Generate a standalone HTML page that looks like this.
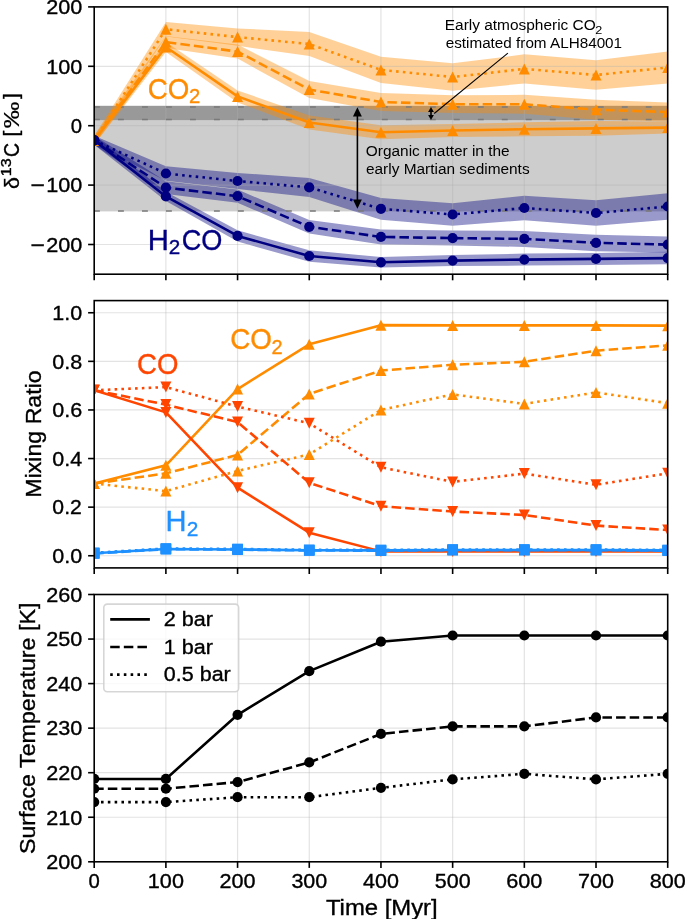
<!DOCTYPE html>
<html><head><meta charset="utf-8"><style>
html,body{margin:0;padding:0;background:#fff;}
svg{display:block;will-change:transform;}
text{font-family:"Liberation Sans", sans-serif;}
</style></head><body>
<svg width="685" height="919" viewBox="0 0 685 919">
<rect width="685" height="919" fill="#fff"/>
<clipPath id="c1"><rect x="94.2" y="6.9" width="573.5" height="267.3"/></clipPath>
<clipPath id="c2"><rect x="94.2" y="300.6" width="573.5" height="267.3"/></clipPath>
<clipPath id="c3"><rect x="94.2" y="594.5" width="573.5" height="267.3"/></clipPath>
<g clip-path="url(#c1)">
<rect x="94.2" y="120.3" width="573.5" height="91.1" fill="#cdcdcd"/>
<rect x="94.2" y="105.8" width="573.5" height="14.5" fill="#999999"/>
<polygon points="94.2,135.8 165.89,21.9 237.57,28.4 309.26,31.9 380.95,56.75 452.64,63.3 524.33,54.35 596.01,60.15 667.7,51.5 667.7,83.5 596.01,89.85 524.33,83.45 452.64,90.7 380.95,83.05 309.26,56.1 237.57,45.8 165.89,36.5 94.2,144.8" fill="#ff8c00" fill-opacity="0.4"/>
<polygon points="94.2,135.8 165.89,36.1 237.57,44.6 309.26,81 380.95,92.9 452.64,95.3 524.33,94.85 596.01,99.7 667.7,102.5 667.7,121.5 596.01,119.7 524.33,113.75 452.64,113.1 380.95,111.1 309.26,98 237.57,58.6 165.89,48.1 94.2,144.8" fill="#ff8c00" fill-opacity="0.4"/>
<polygon points="94.2,135.8 165.89,42 237.57,90.4 309.26,115.5 380.95,125.2 452.64,124 524.33,122.3 596.01,121 667.7,121.6 667.7,133.6 596.01,135.8 524.33,136.3 452.64,137 380.95,139.2 309.26,129.5 237.57,102.4 165.89,52 94.2,144.8" fill="#ff8c00" fill-opacity="0.4"/>
<polygon points="94.2,135.8 165.89,166.3 237.57,172.9 309.26,177.9 380.95,197.9 452.64,203.15 524.33,195.75 596.01,200.25 667.7,193.25 667.7,219.75 596.01,225.75 524.33,220.25 452.64,225.85 380.95,219.7 309.26,196.9 237.57,189.1 165.89,180.7 94.2,144.8" fill="#000080" fill-opacity="0.4"/>
<polygon points="94.2,135.8 165.89,181.3 237.57,189.6 309.26,220 380.95,229.4 452.64,230.6 524.33,230.9 596.01,234.65 667.7,236.6 667.7,252.6 596.01,251.15 524.33,246.9 452.64,245.6 380.95,244.4 309.26,233.6 237.57,202.8 165.89,193.9 94.2,144.8" fill="#000080" fill-opacity="0.4"/>
<polygon points="94.2,135.8 165.89,191.8 237.57,230.3 309.26,250.3 380.95,257.1 452.64,255.1 524.33,253.6 596.01,252.9 667.7,251.85 667.7,264.35 596.01,264.9 524.33,265.6 452.64,266.1 380.95,267.5 309.26,261.7 237.57,241.5 165.89,201 94.2,144.8" fill="#000080" fill-opacity="0.4"/>
<g stroke="#b0b0b0" stroke-opacity="0.35" stroke-width="1.2">
<line x1="94.2" y1="6.9" x2="94.2" y2="274.2"/>
<line x1="165.89" y1="6.9" x2="165.89" y2="274.2"/>
<line x1="237.57" y1="6.9" x2="237.57" y2="274.2"/>
<line x1="309.26" y1="6.9" x2="309.26" y2="274.2"/>
<line x1="380.95" y1="6.9" x2="380.95" y2="274.2"/>
<line x1="452.64" y1="6.9" x2="452.64" y2="274.2"/>
<line x1="524.33" y1="6.9" x2="524.33" y2="274.2"/>
<line x1="596.01" y1="6.9" x2="596.01" y2="274.2"/>
<line x1="667.7" y1="6.9" x2="667.7" y2="274.2"/>
<line x1="94.2" y1="244.5" x2="667.7" y2="244.5"/>
<line x1="94.2" y1="185.1" x2="667.7" y2="185.1"/>
<line x1="94.2" y1="125.7" x2="667.7" y2="125.7"/>
<line x1="94.2" y1="66.3" x2="667.7" y2="66.3"/>
<line x1="94.2" y1="6.9" x2="667.7" y2="6.9"/>
</g>
<line x1="94.0" y1="106.9" x2="667.7" y2="106.9" stroke="#7a7a7a" stroke-width="1.5" stroke-dasharray="5.9,18.09"/>
<line x1="94.0" y1="119.45" x2="667.7" y2="119.45" stroke="#7a7a7a" stroke-width="1.5" stroke-dasharray="5.9,18.09"/>
<line x1="94.0" y1="210.9" x2="667.7" y2="210.9" stroke="#7a7a7a" stroke-width="1.5" stroke-dasharray="5.9,18.09"/>
<polyline points="94.2,140.3 165.89,47 237.57,96.4 309.26,122.5 380.95,132.2 452.64,130.5 524.33,129.3 596.01,128.4 667.7,127.6" fill="none" stroke="#ff8c00" stroke-width="2.57" stroke-linecap="square" stroke-linejoin="round"/>
<path d="M94.2,134.8L99.7,145.8L88.7,145.8Z" fill="#ff8c00"/>
<path d="M165.89,41.5L171.39,52.5L160.39,52.5Z" fill="#ff8c00"/>
<path d="M237.57,90.9L243.07,101.9L232.07,101.9Z" fill="#ff8c00"/>
<path d="M309.26,117L314.76,128L303.76,128Z" fill="#ff8c00"/>
<path d="M380.95,126.7L386.45,137.7L375.45,137.7Z" fill="#ff8c00"/>
<path d="M452.64,125L458.14,136L447.14,136Z" fill="#ff8c00"/>
<path d="M524.33,123.8L529.83,134.8L518.83,134.8Z" fill="#ff8c00"/>
<path d="M596.01,122.9L601.51,133.9L590.51,133.9Z" fill="#ff8c00"/>
<path d="M667.7,122.1L673.2,133.1L662.2,133.1Z" fill="#ff8c00"/>
<polyline points="94.2,140.3 165.89,42.1 237.57,51.6 309.26,89.5 380.95,102 452.64,104.2 524.33,104.3 596.01,109.7 667.7,112" fill="none" stroke="#ff8c00" stroke-width="2.57" stroke-dasharray="9.509,4.112" stroke-linecap="butt" stroke-linejoin="round"/>
<path d="M94.2,134.8L99.7,145.8L88.7,145.8Z" fill="#ff8c00"/>
<path d="M165.89,36.6L171.39,47.6L160.39,47.6Z" fill="#ff8c00"/>
<path d="M237.57,46.1L243.07,57.1L232.07,57.1Z" fill="#ff8c00"/>
<path d="M309.26,84L314.76,95L303.76,95Z" fill="#ff8c00"/>
<path d="M380.95,96.5L386.45,107.5L375.45,107.5Z" fill="#ff8c00"/>
<path d="M452.64,98.7L458.14,109.7L447.14,109.7Z" fill="#ff8c00"/>
<path d="M524.33,98.8L529.83,109.8L518.83,109.8Z" fill="#ff8c00"/>
<path d="M596.01,104.2L601.51,115.2L590.51,115.2Z" fill="#ff8c00"/>
<path d="M667.7,106.5L673.2,117.5L662.2,117.5Z" fill="#ff8c00"/>
<polyline points="94.2,140.3 165.89,29.2 237.57,37.1 309.26,44 380.95,69.9 452.64,77 524.33,68.9 596.01,75 667.7,67.5" fill="none" stroke="#ff8c00" stroke-width="2.57" stroke-dasharray="2.57,4.2405" stroke-linecap="butt" stroke-linejoin="round"/>
<path d="M94.2,134.8L99.7,145.8L88.7,145.8Z" fill="#ff8c00"/>
<path d="M165.89,23.7L171.39,34.7L160.39,34.7Z" fill="#ff8c00"/>
<path d="M237.57,31.6L243.07,42.6L232.07,42.6Z" fill="#ff8c00"/>
<path d="M309.26,38.5L314.76,49.5L303.76,49.5Z" fill="#ff8c00"/>
<path d="M380.95,64.4L386.45,75.4L375.45,75.4Z" fill="#ff8c00"/>
<path d="M452.64,71.5L458.14,82.5L447.14,82.5Z" fill="#ff8c00"/>
<path d="M524.33,63.4L529.83,74.4L518.83,74.4Z" fill="#ff8c00"/>
<path d="M596.01,69.5L601.51,80.5L590.51,80.5Z" fill="#ff8c00"/>
<path d="M667.7,62L673.2,73L662.2,73Z" fill="#ff8c00"/>
<polyline points="94.2,140.3 165.89,196.4 237.57,235.9 309.26,256 380.95,262.3 452.64,260.6 524.33,259.6 596.01,258.9 667.7,258.1" fill="none" stroke="#000080" stroke-width="2.57" stroke-linecap="square" stroke-linejoin="round"/>
<circle cx="94.2" cy="140.3" r="5.1" fill="#000080"/>
<circle cx="165.89" cy="196.4" r="5.1" fill="#000080"/>
<circle cx="237.57" cy="235.9" r="5.1" fill="#000080"/>
<circle cx="309.26" cy="256" r="5.1" fill="#000080"/>
<circle cx="380.95" cy="262.3" r="5.1" fill="#000080"/>
<circle cx="452.64" cy="260.6" r="5.1" fill="#000080"/>
<circle cx="524.33" cy="259.6" r="5.1" fill="#000080"/>
<circle cx="596.01" cy="258.9" r="5.1" fill="#000080"/>
<circle cx="667.7" cy="258.1" r="5.1" fill="#000080"/>
<polyline points="94.2,140.3 165.89,187.6 237.57,196.2 309.26,226.8 380.95,236.9 452.64,238.1 524.33,238.9 596.01,242.9 667.7,244.6" fill="none" stroke="#000080" stroke-width="2.57" stroke-dasharray="9.509,4.112" stroke-linecap="butt" stroke-linejoin="round"/>
<circle cx="94.2" cy="140.3" r="5.1" fill="#000080"/>
<circle cx="165.89" cy="187.6" r="5.1" fill="#000080"/>
<circle cx="237.57" cy="196.2" r="5.1" fill="#000080"/>
<circle cx="309.26" cy="226.8" r="5.1" fill="#000080"/>
<circle cx="380.95" cy="236.9" r="5.1" fill="#000080"/>
<circle cx="452.64" cy="238.1" r="5.1" fill="#000080"/>
<circle cx="524.33" cy="238.9" r="5.1" fill="#000080"/>
<circle cx="596.01" cy="242.9" r="5.1" fill="#000080"/>
<circle cx="667.7" cy="244.6" r="5.1" fill="#000080"/>
<polyline points="94.2,140.3 165.89,173.5 237.57,181 309.26,187.4 380.95,208.8 452.64,214.5 524.33,208 596.01,213 667.7,206.5" fill="none" stroke="#000080" stroke-width="2.57" stroke-dasharray="2.57,4.2405" stroke-linecap="butt" stroke-linejoin="round"/>
<circle cx="94.2" cy="140.3" r="5.1" fill="#000080"/>
<circle cx="165.89" cy="173.5" r="5.1" fill="#000080"/>
<circle cx="237.57" cy="181" r="5.1" fill="#000080"/>
<circle cx="309.26" cy="187.4" r="5.1" fill="#000080"/>
<circle cx="380.95" cy="208.8" r="5.1" fill="#000080"/>
<circle cx="452.64" cy="214.5" r="5.1" fill="#000080"/>
<circle cx="524.33" cy="208" r="5.1" fill="#000080"/>
<circle cx="596.01" cy="213" r="5.1" fill="#000080"/>
<circle cx="667.7" cy="206.5" r="5.1" fill="#000080"/>
</g>
<rect x="94.2" y="6.9" width="573.5" height="267.3" fill="none" stroke="#000" stroke-width="1.6"/>
<g stroke="#000" stroke-width="1.6">
<line x1="94.2" y1="274.2" x2="94.2" y2="280.3"/>
<line x1="165.89" y1="274.2" x2="165.89" y2="280.3"/>
<line x1="237.57" y1="274.2" x2="237.57" y2="280.3"/>
<line x1="309.26" y1="274.2" x2="309.26" y2="280.3"/>
<line x1="380.95" y1="274.2" x2="380.95" y2="280.3"/>
<line x1="452.64" y1="274.2" x2="452.64" y2="280.3"/>
<line x1="524.33" y1="274.2" x2="524.33" y2="280.3"/>
<line x1="596.01" y1="274.2" x2="596.01" y2="280.3"/>
<line x1="667.7" y1="274.2" x2="667.7" y2="280.3"/>
<line x1="88.1" y1="244.5" x2="94.2" y2="244.5"/>
<line x1="88.1" y1="185.1" x2="94.2" y2="185.1"/>
<line x1="88.1" y1="125.7" x2="94.2" y2="125.7"/>
<line x1="88.1" y1="66.3" x2="94.2" y2="66.3"/>
<line x1="88.1" y1="6.9" x2="94.2" y2="6.9"/>
</g>
<text x="30.46" y="251.8" font-size="20.4" fill="#000" stroke="#000" stroke-width="0.35" textLength="14.38" lengthAdjust="spacingAndGlyphs">−</text>
<text x="46.21" y="251.8" font-size="20.4" fill="#000" stroke="#000" stroke-width="0.35" textLength="36.08" lengthAdjust="spacingAndGlyphs">200</text>
<text x="30.46" y="192.4" font-size="20.4" fill="#000" stroke="#000" stroke-width="0.35" textLength="14.38" lengthAdjust="spacingAndGlyphs">−</text>
<text x="46.23" y="192.4" font-size="20.4" fill="#000" stroke="#000" stroke-width="0.35" textLength="36.05" lengthAdjust="spacingAndGlyphs">100</text>
<text x="70.84" y="133" font-size="20.4" fill="#000" stroke="#000" stroke-width="0.35" textLength="11.29" lengthAdjust="spacingAndGlyphs">0</text>
<text x="46.23" y="73.6" font-size="20.4" fill="#000" stroke="#000" stroke-width="0.35" textLength="36.05" lengthAdjust="spacingAndGlyphs">100</text>
<text x="46.21" y="14.2" font-size="20.4" fill="#000" stroke="#000" stroke-width="0.35" textLength="36.08" lengthAdjust="spacingAndGlyphs">200</text>
<g clip-path="url(#c2)">
<g stroke="#b0b0b0" stroke-opacity="0.35" stroke-width="1.2">
<line x1="94.2" y1="300.6" x2="94.2" y2="567.9"/>
<line x1="165.89" y1="300.6" x2="165.89" y2="567.9"/>
<line x1="237.57" y1="300.6" x2="237.57" y2="567.9"/>
<line x1="309.26" y1="300.6" x2="309.26" y2="567.9"/>
<line x1="380.95" y1="300.6" x2="380.95" y2="567.9"/>
<line x1="452.64" y1="300.6" x2="452.64" y2="567.9"/>
<line x1="524.33" y1="300.6" x2="524.33" y2="567.9"/>
<line x1="596.01" y1="300.6" x2="596.01" y2="567.9"/>
<line x1="667.7" y1="300.6" x2="667.7" y2="567.9"/>
<line x1="94.2" y1="555.75" x2="667.7" y2="555.75"/>
<line x1="94.2" y1="507.15" x2="667.7" y2="507.15"/>
<line x1="94.2" y1="458.55" x2="667.7" y2="458.55"/>
<line x1="94.2" y1="409.95" x2="667.7" y2="409.95"/>
<line x1="94.2" y1="361.35" x2="667.7" y2="361.35"/>
<line x1="94.2" y1="312.75" x2="667.7" y2="312.75"/>
</g>
<polyline points="94.2,483.58 165.89,465.35 237.57,389.05 309.26,344.34 380.95,325.14 452.64,325.39 524.33,325.39 596.01,325.39 667.7,325.63" fill="none" stroke="#ff8c00" stroke-width="2.57" stroke-linecap="square" stroke-linejoin="round"/>
<path d="M94.2,478.08L99.7,489.08L88.7,489.08Z" fill="#ff8c00"/>
<path d="M165.89,459.85L171.39,470.85L160.39,470.85Z" fill="#ff8c00"/>
<path d="M237.57,383.55L243.07,394.55L232.07,394.55Z" fill="#ff8c00"/>
<path d="M309.26,338.84L314.76,349.84L303.76,349.84Z" fill="#ff8c00"/>
<path d="M380.95,319.64L386.45,330.64L375.45,330.64Z" fill="#ff8c00"/>
<path d="M452.64,319.89L458.14,330.89L447.14,330.89Z" fill="#ff8c00"/>
<path d="M524.33,319.89L529.83,330.89L518.83,330.89Z" fill="#ff8c00"/>
<path d="M596.01,319.89L601.51,330.89L590.51,330.89Z" fill="#ff8c00"/>
<path d="M667.7,320.13L673.2,331.13L662.2,331.13Z" fill="#ff8c00"/>
<polyline points="94.2,483.58 165.89,473.37 237.57,454.91 309.26,393.91 380.95,370.58 452.64,364.75 524.33,361.84 596.01,350.66 667.7,345.31" fill="none" stroke="#ff8c00" stroke-width="2.57" stroke-dasharray="9.509,4.112" stroke-linecap="butt" stroke-linejoin="round"/>
<path d="M94.2,478.08L99.7,489.08L88.7,489.08Z" fill="#ff8c00"/>
<path d="M165.89,467.87L171.39,478.87L160.39,478.87Z" fill="#ff8c00"/>
<path d="M237.57,449.41L243.07,460.41L232.07,460.41Z" fill="#ff8c00"/>
<path d="M309.26,388.41L314.76,399.41L303.76,399.41Z" fill="#ff8c00"/>
<path d="M380.95,365.08L386.45,376.08L375.45,376.08Z" fill="#ff8c00"/>
<path d="M452.64,359.25L458.14,370.25L447.14,370.25Z" fill="#ff8c00"/>
<path d="M524.33,356.34L529.83,367.34L518.83,367.34Z" fill="#ff8c00"/>
<path d="M596.01,345.16L601.51,356.16L590.51,356.16Z" fill="#ff8c00"/>
<path d="M667.7,339.81L673.2,350.81L662.2,350.81Z" fill="#ff8c00"/>
<polyline points="94.2,483.58 165.89,491.11 237.57,470.94 309.26,454.42 380.95,409.95 452.64,394.4 524.33,403.88 596.01,392.45 667.7,403.15" fill="none" stroke="#ff8c00" stroke-width="2.57" stroke-dasharray="2.57,4.2405" stroke-linecap="butt" stroke-linejoin="round"/>
<path d="M94.2,478.08L99.7,489.08L88.7,489.08Z" fill="#ff8c00"/>
<path d="M165.89,485.61L171.39,496.61L160.39,496.61Z" fill="#ff8c00"/>
<path d="M237.57,465.44L243.07,476.44L232.07,476.44Z" fill="#ff8c00"/>
<path d="M309.26,448.92L314.76,459.92L303.76,459.92Z" fill="#ff8c00"/>
<path d="M380.95,404.45L386.45,415.45L375.45,415.45Z" fill="#ff8c00"/>
<path d="M452.64,388.9L458.14,399.9L447.14,399.9Z" fill="#ff8c00"/>
<path d="M524.33,398.38L529.83,409.38L518.83,409.38Z" fill="#ff8c00"/>
<path d="M596.01,386.95L601.51,397.95L590.51,397.95Z" fill="#ff8c00"/>
<path d="M667.7,397.65L673.2,408.65L662.2,408.65Z" fill="#ff8c00"/>
<polyline points="94.2,390.27 165.89,412.38 237.57,487.71 309.26,532.66 380.95,551.38 452.64,551.38 524.33,551.38 596.01,551.38 667.7,551.38" fill="none" stroke="#ff4500" stroke-width="2.57" stroke-linecap="square" stroke-linejoin="round"/>
<path d="M94.2,395.77L99.7,384.77L88.7,384.77Z" fill="#ff4500"/>
<path d="M165.89,417.88L171.39,406.88L160.39,406.88Z" fill="#ff4500"/>
<path d="M237.57,493.21L243.07,482.21L232.07,482.21Z" fill="#ff4500"/>
<path d="M309.26,538.16L314.76,527.16L303.76,527.16Z" fill="#ff4500"/>
<path d="M380.95,556.88L386.45,545.88L375.45,545.88Z" fill="#ff4500"/>
<path d="M452.64,556.88L458.14,545.88L447.14,545.88Z" fill="#ff4500"/>
<path d="M524.33,556.88L529.83,545.88L518.83,545.88Z" fill="#ff4500"/>
<path d="M596.01,556.88L601.51,545.88L590.51,545.88Z" fill="#ff4500"/>
<path d="M667.7,556.88L673.2,545.88L662.2,545.88Z" fill="#ff4500"/>
<polyline points="94.2,390.27 165.89,404.6 237.57,422.1 309.26,482.85 380.95,506.18 452.64,511.52 524.33,514.93 596.01,525.62 667.7,529.99" fill="none" stroke="#ff4500" stroke-width="2.57" stroke-dasharray="9.509,4.112" stroke-linecap="butt" stroke-linejoin="round"/>
<path d="M94.2,395.77L99.7,384.77L88.7,384.77Z" fill="#ff4500"/>
<path d="M165.89,410.1L171.39,399.1L160.39,399.1Z" fill="#ff4500"/>
<path d="M237.57,427.6L243.07,416.6L232.07,416.6Z" fill="#ff4500"/>
<path d="M309.26,488.35L314.76,477.35L303.76,477.35Z" fill="#ff4500"/>
<path d="M380.95,511.68L386.45,500.68L375.45,500.68Z" fill="#ff4500"/>
<path d="M452.64,517.02L458.14,506.02L447.14,506.02Z" fill="#ff4500"/>
<path d="M524.33,520.43L529.83,509.43L518.83,509.43Z" fill="#ff4500"/>
<path d="M596.01,531.12L601.51,520.12L590.51,520.12Z" fill="#ff4500"/>
<path d="M667.7,535.49L673.2,524.49L662.2,524.49Z" fill="#ff4500"/>
<polyline points="94.2,390.27 165.89,387.11 237.57,406.55 309.26,423.31 380.95,467.3 452.64,481.88 524.33,473.62 596.01,484.79 667.7,473.37" fill="none" stroke="#ff4500" stroke-width="2.57" stroke-dasharray="2.57,4.2405" stroke-linecap="butt" stroke-linejoin="round"/>
<path d="M94.2,395.77L99.7,384.77L88.7,384.77Z" fill="#ff4500"/>
<path d="M165.89,392.61L171.39,381.61L160.39,381.61Z" fill="#ff4500"/>
<path d="M237.57,412.05L243.07,401.05L232.07,401.05Z" fill="#ff4500"/>
<path d="M309.26,428.81L314.76,417.81L303.76,417.81Z" fill="#ff4500"/>
<path d="M380.95,472.8L386.45,461.8L375.45,461.8Z" fill="#ff4500"/>
<path d="M452.64,487.38L458.14,476.38L447.14,476.38Z" fill="#ff4500"/>
<path d="M524.33,479.12L529.83,468.12L518.83,468.12Z" fill="#ff4500"/>
<path d="M596.01,490.29L601.51,479.29L590.51,479.29Z" fill="#ff4500"/>
<path d="M667.7,478.87L673.2,467.87L662.2,467.87Z" fill="#ff4500"/>
<polyline points="94.2,553.25 165.89,548.95 237.57,549.43 309.26,550.26 380.95,550.4 452.64,549.92 524.33,549.92 596.01,549.92 667.7,550.4" fill="none" stroke="#1e90ff" stroke-width="2.57" stroke-linecap="square" stroke-linejoin="round"/>
<rect x="88.9" y="547.95" width="10.6" height="10.6" fill="#1e90ff"/>
<rect x="160.59" y="543.65" width="10.6" height="10.6" fill="#1e90ff"/>
<rect x="232.27" y="544.13" width="10.6" height="10.6" fill="#1e90ff"/>
<rect x="303.96" y="544.96" width="10.6" height="10.6" fill="#1e90ff"/>
<rect x="375.65" y="545.1" width="10.6" height="10.6" fill="#1e90ff"/>
<rect x="447.34" y="544.62" width="10.6" height="10.6" fill="#1e90ff"/>
<rect x="519.03" y="544.62" width="10.6" height="10.6" fill="#1e90ff"/>
<rect x="590.71" y="544.62" width="10.6" height="10.6" fill="#1e90ff"/>
<rect x="662.4" y="545.1" width="10.6" height="10.6" fill="#1e90ff"/>
<polyline points="94.2,553.49 165.89,549.19 237.57,549.67 309.26,550.5 380.95,550.65 452.64,550.16 524.33,550.16 596.01,550.16 667.7,550.65" fill="none" stroke="#1e90ff" stroke-width="2.57" stroke-dasharray="9.509,4.112" stroke-linecap="butt" stroke-linejoin="round"/>
<rect x="88.9" y="548.19" width="10.6" height="10.6" fill="#1e90ff"/>
<rect x="160.59" y="543.89" width="10.6" height="10.6" fill="#1e90ff"/>
<rect x="232.27" y="544.38" width="10.6" height="10.6" fill="#1e90ff"/>
<rect x="303.96" y="545.2" width="10.6" height="10.6" fill="#1e90ff"/>
<rect x="375.65" y="545.35" width="10.6" height="10.6" fill="#1e90ff"/>
<rect x="447.34" y="544.86" width="10.6" height="10.6" fill="#1e90ff"/>
<rect x="519.03" y="544.86" width="10.6" height="10.6" fill="#1e90ff"/>
<rect x="590.71" y="544.86" width="10.6" height="10.6" fill="#1e90ff"/>
<rect x="662.4" y="545.35" width="10.6" height="10.6" fill="#1e90ff"/>
<polyline points="94.2,552.76 165.89,548.46 237.57,548.95 309.26,549.77 380.95,549.92 452.64,549.43 524.33,549.43 596.01,549.43 667.7,549.92" fill="none" stroke="#1e90ff" stroke-width="2.57" stroke-dasharray="2.57,4.2405" stroke-linecap="butt" stroke-linejoin="round"/>
<rect x="88.9" y="547.46" width="10.6" height="10.6" fill="#1e90ff"/>
<rect x="160.59" y="543.16" width="10.6" height="10.6" fill="#1e90ff"/>
<rect x="232.27" y="543.65" width="10.6" height="10.6" fill="#1e90ff"/>
<rect x="303.96" y="544.47" width="10.6" height="10.6" fill="#1e90ff"/>
<rect x="375.65" y="544.62" width="10.6" height="10.6" fill="#1e90ff"/>
<rect x="447.34" y="544.13" width="10.6" height="10.6" fill="#1e90ff"/>
<rect x="519.03" y="544.13" width="10.6" height="10.6" fill="#1e90ff"/>
<rect x="590.71" y="544.13" width="10.6" height="10.6" fill="#1e90ff"/>
<rect x="662.4" y="544.62" width="10.6" height="10.6" fill="#1e90ff"/>
</g>
<rect x="94.2" y="300.6" width="573.5" height="267.3" fill="none" stroke="#000" stroke-width="1.6"/>
<g stroke="#000" stroke-width="1.6">
<line x1="94.2" y1="567.9" x2="94.2" y2="574"/>
<line x1="165.89" y1="567.9" x2="165.89" y2="574"/>
<line x1="237.57" y1="567.9" x2="237.57" y2="574"/>
<line x1="309.26" y1="567.9" x2="309.26" y2="574"/>
<line x1="380.95" y1="567.9" x2="380.95" y2="574"/>
<line x1="452.64" y1="567.9" x2="452.64" y2="574"/>
<line x1="524.33" y1="567.9" x2="524.33" y2="574"/>
<line x1="596.01" y1="567.9" x2="596.01" y2="574"/>
<line x1="667.7" y1="567.9" x2="667.7" y2="574"/>
<line x1="88.1" y1="555.75" x2="94.2" y2="555.75"/>
<line x1="88.1" y1="507.15" x2="94.2" y2="507.15"/>
<line x1="88.1" y1="458.55" x2="94.2" y2="458.55"/>
<line x1="88.1" y1="409.95" x2="94.2" y2="409.95"/>
<line x1="88.1" y1="361.35" x2="94.2" y2="361.35"/>
<line x1="88.1" y1="312.75" x2="94.2" y2="312.75"/>
</g>
<text x="52.38" y="563.05" font-size="20.4" fill="#000" stroke="#000" stroke-width="0.35" textLength="29.9" lengthAdjust="spacingAndGlyphs">0.0</text>
<text x="52.39" y="514.45" font-size="20.4" fill="#000" stroke="#000" stroke-width="0.35" textLength="29.41" lengthAdjust="spacingAndGlyphs">0.2</text>
<text x="52.38" y="465.85" font-size="20.4" fill="#000" stroke="#000" stroke-width="0.35" textLength="29.88" lengthAdjust="spacingAndGlyphs">0.4</text>
<text x="52.38" y="417.25" font-size="20.4" fill="#000" stroke="#000" stroke-width="0.35" textLength="30" lengthAdjust="spacingAndGlyphs">0.6</text>
<text x="52.38" y="368.65" font-size="20.4" fill="#000" stroke="#000" stroke-width="0.35" textLength="29.9" lengthAdjust="spacingAndGlyphs">0.8</text>
<text x="52.39" y="320.05" font-size="20.4" fill="#000" stroke="#000" stroke-width="0.35" textLength="29.89" lengthAdjust="spacingAndGlyphs">1.0</text>
<g clip-path="url(#c3)">
<g stroke="#b0b0b0" stroke-opacity="0.35" stroke-width="1.2">
<line x1="94.2" y1="594.5" x2="94.2" y2="861.8"/>
<line x1="165.89" y1="594.5" x2="165.89" y2="861.8"/>
<line x1="237.57" y1="594.5" x2="237.57" y2="861.8"/>
<line x1="309.26" y1="594.5" x2="309.26" y2="861.8"/>
<line x1="380.95" y1="594.5" x2="380.95" y2="861.8"/>
<line x1="452.64" y1="594.5" x2="452.64" y2="861.8"/>
<line x1="524.33" y1="594.5" x2="524.33" y2="861.8"/>
<line x1="596.01" y1="594.5" x2="596.01" y2="861.8"/>
<line x1="667.7" y1="594.5" x2="667.7" y2="861.8"/>
<line x1="94.2" y1="861.8" x2="667.7" y2="861.8"/>
<line x1="94.2" y1="817.25" x2="667.7" y2="817.25"/>
<line x1="94.2" y1="772.7" x2="667.7" y2="772.7"/>
<line x1="94.2" y1="728.15" x2="667.7" y2="728.15"/>
<line x1="94.2" y1="683.6" x2="667.7" y2="683.6"/>
<line x1="94.2" y1="639.05" x2="667.7" y2="639.05"/>
<line x1="94.2" y1="594.5" x2="667.7" y2="594.5"/>
</g>
<polyline points="94.2,778.94 165.89,778.94 237.57,714.78 309.26,671.13 380.95,641.72 452.64,635.49 524.33,635.49 596.01,635.49 667.7,635.49" fill="none" stroke="#000" stroke-width="2.57" stroke-linecap="square" stroke-linejoin="round"/>
<circle cx="94.2" cy="778.94" r="5.1" fill="#000"/>
<circle cx="165.89" cy="778.94" r="5.1" fill="#000"/>
<circle cx="237.57" cy="714.78" r="5.1" fill="#000"/>
<circle cx="309.26" cy="671.13" r="5.1" fill="#000"/>
<circle cx="380.95" cy="641.72" r="5.1" fill="#000"/>
<circle cx="452.64" cy="635.49" r="5.1" fill="#000"/>
<circle cx="524.33" cy="635.49" r="5.1" fill="#000"/>
<circle cx="596.01" cy="635.49" r="5.1" fill="#000"/>
<circle cx="667.7" cy="635.49" r="5.1" fill="#000"/>
<polyline points="94.2,788.74 165.89,788.74 237.57,782.06 309.26,762.45 380.95,733.94 452.64,726.37 524.33,726.37 596.01,717.46 667.7,717.46" fill="none" stroke="#000" stroke-width="2.57" stroke-dasharray="9.509,4.112" stroke-linecap="butt" stroke-linejoin="round"/>
<circle cx="94.2" cy="788.74" r="5.1" fill="#000"/>
<circle cx="165.89" cy="788.74" r="5.1" fill="#000"/>
<circle cx="237.57" cy="782.06" r="5.1" fill="#000"/>
<circle cx="309.26" cy="762.45" r="5.1" fill="#000"/>
<circle cx="380.95" cy="733.94" r="5.1" fill="#000"/>
<circle cx="452.64" cy="726.37" r="5.1" fill="#000"/>
<circle cx="524.33" cy="726.37" r="5.1" fill="#000"/>
<circle cx="596.01" cy="717.46" r="5.1" fill="#000"/>
<circle cx="667.7" cy="717.46" r="5.1" fill="#000"/>
<polyline points="94.2,802.1 165.89,802.1 237.57,797.2 309.26,797.2 380.95,787.85 452.64,779.38 524.33,773.81 596.01,779.38 667.7,773.81" fill="none" stroke="#000" stroke-width="2.57" stroke-dasharray="2.57,4.2405" stroke-linecap="butt" stroke-linejoin="round"/>
<circle cx="94.2" cy="802.1" r="5.1" fill="#000"/>
<circle cx="165.89" cy="802.1" r="5.1" fill="#000"/>
<circle cx="237.57" cy="797.2" r="5.1" fill="#000"/>
<circle cx="309.26" cy="797.2" r="5.1" fill="#000"/>
<circle cx="380.95" cy="787.85" r="5.1" fill="#000"/>
<circle cx="452.64" cy="779.38" r="5.1" fill="#000"/>
<circle cx="524.33" cy="773.81" r="5.1" fill="#000"/>
<circle cx="596.01" cy="779.38" r="5.1" fill="#000"/>
<circle cx="667.7" cy="773.81" r="5.1" fill="#000"/>
</g>
<rect x="94.2" y="594.5" width="573.5" height="267.3" fill="none" stroke="#000" stroke-width="1.6"/>
<g stroke="#000" stroke-width="1.6">
<line x1="94.2" y1="861.8" x2="94.2" y2="867.9"/>
<line x1="165.89" y1="861.8" x2="165.89" y2="867.9"/>
<line x1="237.57" y1="861.8" x2="237.57" y2="867.9"/>
<line x1="309.26" y1="861.8" x2="309.26" y2="867.9"/>
<line x1="380.95" y1="861.8" x2="380.95" y2="867.9"/>
<line x1="452.64" y1="861.8" x2="452.64" y2="867.9"/>
<line x1="524.33" y1="861.8" x2="524.33" y2="867.9"/>
<line x1="596.01" y1="861.8" x2="596.01" y2="867.9"/>
<line x1="667.7" y1="861.8" x2="667.7" y2="867.9"/>
<line x1="88.1" y1="861.8" x2="94.2" y2="861.8"/>
<line x1="88.1" y1="817.25" x2="94.2" y2="817.25"/>
<line x1="88.1" y1="772.7" x2="94.2" y2="772.7"/>
<line x1="88.1" y1="728.15" x2="94.2" y2="728.15"/>
<line x1="88.1" y1="683.6" x2="94.2" y2="683.6"/>
<line x1="88.1" y1="639.05" x2="94.2" y2="639.05"/>
<line x1="88.1" y1="594.5" x2="94.2" y2="594.5"/>
</g>
<text x="46.21" y="869.1" font-size="20.4" fill="#000" stroke="#000" stroke-width="0.35" textLength="36.08" lengthAdjust="spacingAndGlyphs">200</text>
<text x="46.21" y="824.55" font-size="20.4" fill="#000" stroke="#000" stroke-width="0.35" textLength="36.08" lengthAdjust="spacingAndGlyphs">210</text>
<text x="46.21" y="780" font-size="20.4" fill="#000" stroke="#000" stroke-width="0.35" textLength="36.08" lengthAdjust="spacingAndGlyphs">220</text>
<text x="46.21" y="735.45" font-size="20.4" fill="#000" stroke="#000" stroke-width="0.35" textLength="36.08" lengthAdjust="spacingAndGlyphs">230</text>
<text x="46.21" y="690.9" font-size="20.4" fill="#000" stroke="#000" stroke-width="0.35" textLength="36.08" lengthAdjust="spacingAndGlyphs">240</text>
<text x="46.21" y="646.35" font-size="20.4" fill="#000" stroke="#000" stroke-width="0.35" textLength="36.08" lengthAdjust="spacingAndGlyphs">250</text>
<text x="46.21" y="601.8" font-size="20.4" fill="#000" stroke="#000" stroke-width="0.35" textLength="36.08" lengthAdjust="spacingAndGlyphs">260</text>
<text x="88.5" y="888.2" font-size="20.4" fill="#000" stroke="#000" stroke-width="0.35" textLength="11.29" lengthAdjust="spacingAndGlyphs">0</text>
<text x="147.86" y="888.2" font-size="20.4" fill="#000" stroke="#000" stroke-width="0.35" textLength="36.05" lengthAdjust="spacingAndGlyphs">100</text>
<text x="219.52" y="888.2" font-size="20.4" fill="#000" stroke="#000" stroke-width="0.35" textLength="36.08" lengthAdjust="spacingAndGlyphs">200</text>
<text x="291.43" y="888.2" font-size="20.4" fill="#000" stroke="#000" stroke-width="0.35" textLength="35.85" lengthAdjust="spacingAndGlyphs">300</text>
<text x="363.07" y="888.2" font-size="20.4" fill="#000" stroke="#000" stroke-width="0.35" textLength="35.9" lengthAdjust="spacingAndGlyphs">400</text>
<text x="434.81" y="888.2" font-size="20.4" fill="#000" stroke="#000" stroke-width="0.35" textLength="35.85" lengthAdjust="spacingAndGlyphs">500</text>
<text x="506.17" y="888.2" font-size="20.4" fill="#000" stroke="#000" stroke-width="0.35" textLength="36.18" lengthAdjust="spacingAndGlyphs">600</text>
<text x="578.06" y="888.2" font-size="20.4" fill="#000" stroke="#000" stroke-width="0.35" textLength="35.97" lengthAdjust="spacingAndGlyphs">700</text>
<text x="649.67" y="888.2" font-size="20.4" fill="#000" stroke="#000" stroke-width="0.35" textLength="36.05" lengthAdjust="spacingAndGlyphs">800</text>
<line x1="357.4" y1="116" x2="357.4" y2="200.1" stroke="#000" stroke-width="1.6"/>
<path d="M357.4,107.3L361.85,116.5L352.95,116.5Z" fill="#000"/>
<path d="M357.4,208.8L361.85,199.6L352.95,199.6Z" fill="#000"/>
<line x1="431" y1="111.6" x2="431" y2="115.4" stroke="#000" stroke-width="1.6"/>
<path d="M431,107.1L433.9,112.1L428.1,112.1Z" fill="#000"/>
<path d="M431,119.9L433.9,114.9L428.1,114.9Z" fill="#000"/>
<line x1="434.2" y1="113.5" x2="507.9" y2="53.1" stroke="#000" stroke-width="1.1"/>
<text x="444.76" y="30" font-size="15.4" fill="#000" textLength="151.02" lengthAdjust="spacingAndGlyphs">Early atmospheric CO</text>
<text x="595.37" y="33.8" font-size="10.8" fill="#000" textLength="7.01" lengthAdjust="spacingAndGlyphs">2</text>
<text x="445.69" y="47.6" font-size="15.4" fill="#000" textLength="176.4" lengthAdjust="spacingAndGlyphs">estimated from ALH84001</text>
<text x="365.83" y="155.9" font-size="15.4" fill="#000" textLength="143.8" lengthAdjust="spacingAndGlyphs">Organic matter in the</text>
<text x="365.98" y="174" font-size="15.4" fill="#000" textLength="163.66" lengthAdjust="spacingAndGlyphs">early Martian sediments</text>
<text x="147.81" y="98.7" font-size="29.3" fill="#ff8c00" stroke="#ff8c00" stroke-width="0.35" textLength="41.57" lengthAdjust="spacingAndGlyphs">CO</text>
<text x="188.99" y="103.1" font-size="20.7" fill="#ff8c00" stroke="#ff8c00" stroke-width="0.35" textLength="11.25" lengthAdjust="spacingAndGlyphs">2</text>
<text x="147.86" y="249.9" font-size="29.3" fill="#000080" stroke="#000080" stroke-width="0.35" textLength="21.15" lengthAdjust="spacingAndGlyphs">H</text>
<text x="168.87" y="254.3" font-size="20.7" fill="#000080" stroke="#000080" stroke-width="0.35" textLength="11.49" lengthAdjust="spacingAndGlyphs">2</text>
<text x="181.64" y="249.9" font-size="29.3" fill="#000080" stroke="#000080" stroke-width="0.35" textLength="40.71" lengthAdjust="spacingAndGlyphs">CO</text>
<text x="137.02" y="373.5" font-size="29.3" fill="#ff4500" stroke="#ff4500" stroke-width="0.35" textLength="41.36" lengthAdjust="spacingAndGlyphs">CO</text>
<text x="230.21" y="349.4" font-size="29.3" fill="#ff8c00" stroke="#ff8c00" stroke-width="0.35" textLength="41.68" lengthAdjust="spacingAndGlyphs">CO</text>
<text x="271.5" y="353.7" font-size="20.7" fill="#ff8c00" stroke="#ff8c00" stroke-width="0.35" textLength="11.12" lengthAdjust="spacingAndGlyphs">2</text>
<text x="165.57" y="531" font-size="29.3" fill="#1e90ff" stroke="#1e90ff" stroke-width="0.35" textLength="21.02" lengthAdjust="spacingAndGlyphs">H</text>
<text x="186.66" y="535.9" font-size="20.7" fill="#1e90ff" stroke="#1e90ff" stroke-width="0.35" textLength="11.61" lengthAdjust="spacingAndGlyphs">2</text>
<rect x="103.8" y="604.1" width="134.8" height="87.6" rx="3.5" ry="3.5" fill="#fff" fill-opacity="0.8" stroke="#cccccc" stroke-opacity="0.8" stroke-width="1.6"/>
<line x1="111.5" y1="619.4" x2="148.6" y2="619.4" stroke="#000" stroke-width="2.57" stroke-linecap="square"/>
<line x1="110.2" y1="647.0" x2="149.9" y2="647.0" stroke="#000" stroke-width="2.57" stroke-dasharray="9.509,4.112"/>
<line x1="110.2" y1="674.6" x2="149.9" y2="674.6" stroke="#000" stroke-width="2.57" stroke-dasharray="2.57,4.2405"/>
<text x="163.82" y="626" font-size="19.9" fill="#000" stroke="#000" stroke-width="0.35" textLength="49.15" lengthAdjust="spacingAndGlyphs">2 bar</text>
<text x="163.83" y="653.5" font-size="19.9" fill="#000" stroke="#000" stroke-width="0.35" textLength="49.14" lengthAdjust="spacingAndGlyphs">1 bar</text>
<text x="163.85" y="680.9" font-size="19.9" fill="#000" stroke="#000" stroke-width="0.35" textLength="66.95" lengthAdjust="spacingAndGlyphs">0.5 bar</text>
<text x="325.92" y="914.6" font-size="21.8" fill="#000" stroke="#000" stroke-width="0.35" textLength="111.76" lengthAdjust="spacingAndGlyphs">Time [Myr]</text>
<g transform="translate(40.9,495.8) rotate(-90)"><text x="-1.85" y="0" font-size="21.8" fill="#000" stroke="#000" stroke-width="0.35" textLength="127.32" lengthAdjust="spacingAndGlyphs">Mixing Ratio</text></g>
<g transform="translate(35,852.9) rotate(-90)"><text x="-1.16" y="0" font-size="21.8" fill="#000" stroke="#000" stroke-width="0.35" textLength="251.4" lengthAdjust="spacingAndGlyphs">Surface Temperature [K]</text></g>
<g transform="translate(19.1,188.1) rotate(-90)"><text x="-0.86" y="0" font-size="21" fill="#000" stroke="#000" stroke-width="0.35" textLength="11.96" lengthAdjust="spacingAndGlyphs">δ</text><text x="11.82" y="-8" font-size="14.8" fill="#000" stroke="#000" stroke-width="0.35" textLength="17.86" lengthAdjust="spacingAndGlyphs">13</text><text x="31.03" y="0" font-size="22" fill="#000" stroke="#000" stroke-width="0.35" textLength="13.99" lengthAdjust="spacingAndGlyphs">C</text><text x="51.73" y="-1.3" font-size="19.8" fill="#000" stroke="#000" stroke-width="0.35" textLength="5.84" lengthAdjust="spacingAndGlyphs">[</text><text x="59.59" y="0" font-size="21.8" fill="#000" stroke="#000" stroke-width="0.1" textLength="27.02" lengthAdjust="spacingAndGlyphs">‰</text><text x="89" y="-1.3" font-size="19.8" fill="#000" stroke="#000" stroke-width="0.35" textLength="5.7" lengthAdjust="spacingAndGlyphs">]</text></g>
</svg>
</body></html>
